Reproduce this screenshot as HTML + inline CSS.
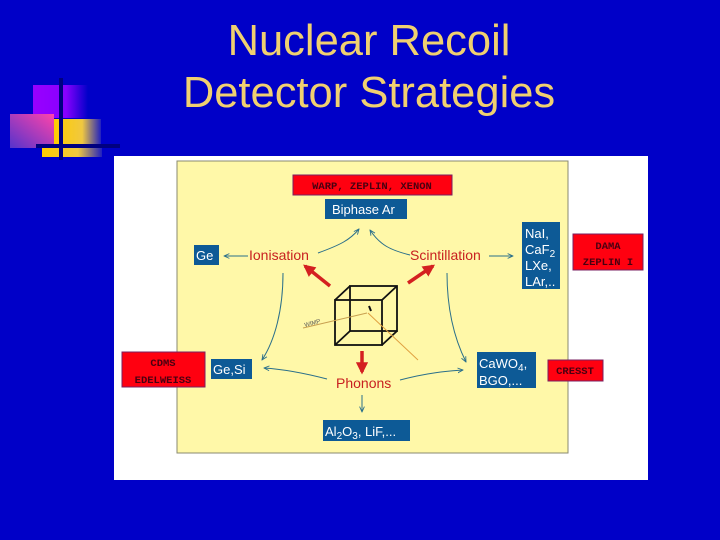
<!DOCTYPE html>
<html><head><meta charset="utf-8"><style>
html,body{margin:0;padding:0;background:#0000c8;width:720px;height:540px;overflow:hidden}
svg{display:block}
</style></head><body>
<svg width="720" height="540" viewBox="0 0 720 540" xmlns="http://www.w3.org/2000/svg" font-family="Liberation Sans, sans-serif">
<defs>
<linearGradient id="gp" x1="0" x2="1"><stop offset="0" stop-color="#9900ff"/><stop offset="0.6" stop-color="#8800ff"/><stop offset="1" stop-color="#0000c8"/></linearGradient>
<linearGradient id="gy" x1="0" x2="1"><stop offset="0" stop-color="#ffcc00"/><stop offset="0.6" stop-color="#f0c840"/><stop offset="1" stop-color="#2020c0"/></linearGradient>
<linearGradient id="gm" x1="1" y1="0" x2="0" y2="1"><stop offset="0" stop-color="#ff44aa"/><stop offset="1" stop-color="#5533cc"/></linearGradient>
<marker id="a" viewBox="0 0 10 10" refX="9" refY="5" markerWidth="6" markerHeight="6" orient="auto"><path d="M0,1 L9,5 L0,9" fill="none" stroke="#2a6f8a" stroke-width="1.5"/></marker>
<marker id="r" viewBox="0 0 10 10" refX="8" refY="5" markerWidth="3.5" markerHeight="3.5" orient="auto"><path d="M0,0 L10,5 L0,10 z" fill="#d42020"/></marker>
</defs>
<rect width="720" height="540" fill="#0000c8"/>
<!-- logo -->
<rect x="33" y="85" width="55" height="33" fill="url(#gp)"/>
<rect x="10" y="114" width="44" height="34" fill="url(#gm)"/>
<rect x="54" y="119" width="47" height="30" fill="url(#gy)"/>
<rect x="42" y="147" width="60" height="10" fill="url(#gy)"/>
<rect x="59" y="78" width="4" height="82" fill="#000080"/>
<rect x="36" y="144" width="84" height="4" fill="#000080"/>
<!-- title -->
<text x="369" y="55" font-size="43.5" fill="#f0d070" text-anchor="middle">Nuclear Recoil</text>
<text x="369" y="107" font-size="43.5" fill="#f0d070" text-anchor="middle">Detector Strategies</text>
<!-- panels -->
<rect x="114" y="156" width="534" height="324" fill="#ffffff"/>
<rect x="177" y="161" width="391" height="292" fill="#fff8a8" stroke="#8a8a70" stroke-width="1"/>
<!-- red labels -->
<g font-family="Liberation Mono, monospace" font-weight="bold" font-size="10.5" fill="#4a0010" text-anchor="middle">
<rect x="293" y="175" width="159" height="20" fill="#ff0010" stroke="#7a2060"/>
<text x="372" y="189">WARP, ZEPLIN, XENON</text>
<rect x="573" y="234" width="70" height="36" fill="#ff0010" stroke="#7a2060"/>
<text x="608" y="249">DAMA</text><text x="608" y="265">ZEPLIN I</text>
<rect x="122" y="352" width="83" height="35" fill="#ff0010" stroke="#7a2060"/>
<text x="163" y="366">CDMS</text><text x="163" y="383">EDELWEISS</text>
<rect x="548" y="360" width="55" height="21" fill="#ff0010" stroke="#7a2060"/>
<text x="575" y="374">CRESST</text>
</g>
<!-- blue boxes -->
<g fill="#0d5a96">
<rect x="325" y="199" width="82" height="20"/>
<rect x="194" y="245" width="25" height="20"/>
<rect x="522" y="222" width="38" height="67"/>
<rect x="211" y="359" width="41" height="20"/>
<rect x="477" y="352" width="59" height="36"/>
<rect x="323" y="420" width="87" height="21"/>
</g>
<g fill="#ffffff" font-size="13">
<text x="332" y="214">Biphase Ar</text>
<text x="196" y="260">Ge</text>
<text x="525" y="238">NaI,</text>
<text x="525" y="254">CaF<tspan font-size="10" dy="3">2</tspan></text>
<text x="525" y="270">LXe,</text>
<text x="525" y="286">LAr,..</text>
<text x="213" y="374">Ge,Si</text>
<text x="479" y="368">CaWO<tspan font-size="10" dy="3">4</tspan><tspan dy="-3">,</tspan></text>
<text x="479" y="385">BGO,...</text>
<text x="325" y="436">Al<tspan font-size="10" dy="3">2</tspan><tspan dy="-3">O</tspan><tspan font-size="10" dy="3">3</tspan><tspan dy="-3">, LiF,...</tspan></text>
</g>
<!-- red text -->
<g fill="#c82020" font-size="14">
<text x="249" y="260">Ionisation</text>
<text x="410" y="260">Scintillation</text>
<text x="336" y="388">Phonons</text>
</g>
<!-- connectors -->
<g fill="none" stroke="#2a6f8a" stroke-width="1" marker-end="url(#a)">
<line x1="248" y1="256" x2="224" y2="256"/>
<line x1="489" y1="256" x2="513" y2="256"/>
<path d="M318,253 C340,245 350,240 359,229"/>
<path d="M410,255 C390,250 380,245 370,230"/>
<path d="M283,273 C283,310 275,340 262,360"/>
<path d="M447,273 C447,310 455,340 466,362"/>
<path d="M327,379 C300,372 280,369 264,368"/>
<path d="M400,380 C430,372 450,371 463,370"/>
<line x1="362" y1="395" x2="362" y2="412"/>
</g>
<!-- red arrows -->
<g stroke="#d42020" stroke-width="3.5" marker-end="url(#r)">
<line x1="330" y1="286" x2="305" y2="266"/>
<line x1="408" y1="283" x2="433" y2="266"/>
<line x1="362" y1="351" x2="362" y2="372"/>
</g>
<!-- cube -->
<g fill="none" stroke="#111" stroke-width="1.8">
<rect x="335" y="300" width="47" height="45"/>
<rect x="350" y="286" width="47" height="45"/>
<line x1="335" y1="300" x2="350" y2="286"/><line x1="382" y1="300" x2="397" y2="286"/>
<line x1="335" y1="345" x2="350" y2="331"/><line x1="382" y1="345" x2="397" y2="331"/>
</g>
<line x1="303" y1="328" x2="367" y2="313" stroke="#c8a050" stroke-width="1"/>
<line x1="368" y1="313" x2="418" y2="360" stroke="#e0a040" stroke-width="1"/>
<line x1="369" y1="306" x2="371" y2="311" stroke="#111" stroke-width="2"/>
<text x="305" y="327" font-size="6" fill="#555" transform="rotate(-15 305 327)">WIMP</text>
</svg>
</body></html>
